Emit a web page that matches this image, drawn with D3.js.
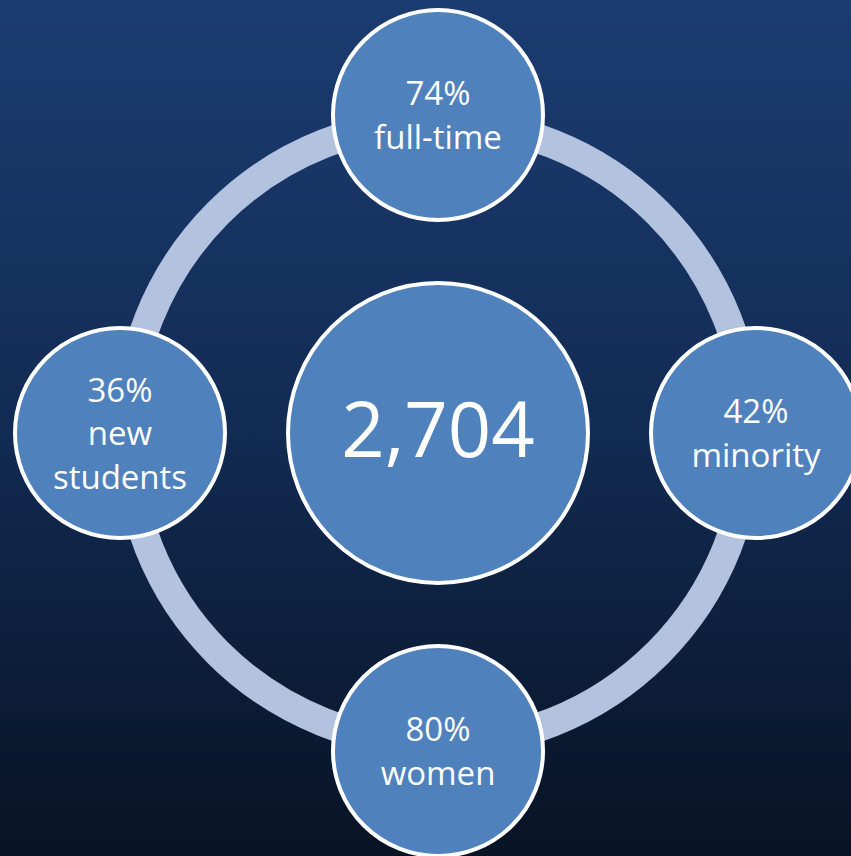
<!DOCTYPE html>
<html>
<head>
<meta charset="utf-8">
<script src="https://cdn.jsdelivr.net/npm/d3@7"></script>
<style>
  html, body { margin: 0; padding: 0; background: #0a1528; }
  svg { display: block; }
</style>
</head>
<body>
<script>
// headline number in the middle
var total = "2,704";

// satellites, clockwise from the top
var categories = ["full-time", "minority", "women", "new students"];
var values = ["74%", "42%", "80%", "36%"];

var width = 851,
    height = 856;

var cx = 438, cy = 433;
var orbit = 318,   // satellite centres
    ringR = 311,   // grey ring
    bigR = 150,
    smallR = 105;

var svg = d3.select("body").append("svg")
    .attr("width", width)
    .attr("height", height);

var defs = svg.append("defs");
var grad = defs.append("linearGradient")
    .attr("id", "bg")
    .attr("x1", 0).attr("y1", 0).attr("x2", 0).attr("y2", 1);
grad.append("stop").attr("offset", "0%").attr("stop-color", "#1b3c71");
grad.append("stop").attr("offset", "50%").attr("stop-color", "#122b53");
grad.append("stop").attr("offset", "100%").attr("stop-color", "#081324");

svg.append("rect")
    .attr("width", width)
    .attr("height", height)
    .attr("fill", "url(#bg)");

// angle for each category, top first going clockwise
var angle = d3.scalePoint()
    .domain(categories)
    .range([-90, 270])
    .padding(0);
angle.range([-90, 270 - 360 / categories.length]);

var g = svg.append("g").attr("transform", "translate(" + cx + "," + cy + ")");

g.append("circle")
    .attr("r", ringR)
    .attr("fill", "none")
    .attr("stroke", "#b3c2de")
    .attr("stroke-width", 29);

var font = "'Open Sans', 'Noto Sans', sans-serif";

// centre circle
g.append("circle")
    .attr("r", bigR)
    .attr("fill", "#4f81bd")
    .attr("stroke", "#fff")
    .attr("stroke-width", 4);

g.append("text")
    .attr("x", 0)
    .attr("y", 24)
    .attr("text-anchor", "middle")
    .attr("fill", "#fff")
    .style("font-family", font)
    .style("font-size", "76px")
    .text(total);

var data = categories.map(function (c, i) {
    return { cat: c, val: values[i] };
});

var node = g.selectAll("g.sat")
    .data(data)
    .enter()
    .append("g")
    .attr("class", "sat")
    .attr("transform", function (d) {
        var a = angle(d.cat) * Math.PI / 180;
        return "translate(" + (orbit * Math.cos(a)) + "," + (orbit * Math.sin(a)) + ")";
    });

node.append("circle")
    .attr("r", smallR)
    .attr("fill", "#4f81bd")
    .attr("stroke", "#fff")
    .attr("stroke-width", 4);

var lineH = 43.5;
node.each(function (d) {
    var lines = [d.val].concat(d.cat.split(" "));
    var t = d3.select(this).append("text")
        .attr("text-anchor", "middle")
        .attr("fill", "#fff")
        .style("font-family", font)
        .style("font-size", "33px");
    // block centred on the circle (cap height ~24px)
    var first = 12 - (lines.length - 1) * lineH / 2;
    lines.forEach(function (l, i) {
        t.append("tspan")
            .attr("x", 0)
            .attr("y", first + i * lineH)
            .text(l);
    });
});
</script>
</body>
</html>
